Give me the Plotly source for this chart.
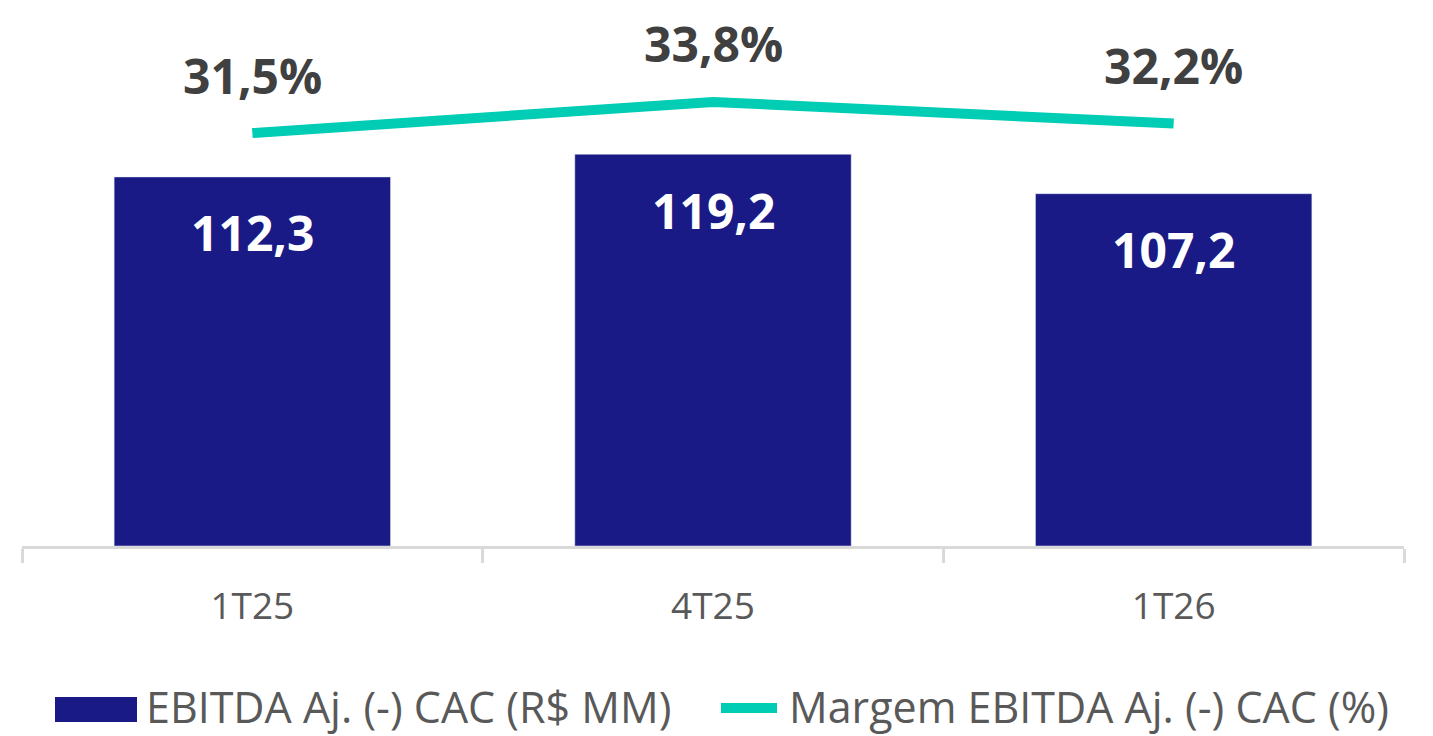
import plotly.graph_objects as go

categories = ["1T25", "4T25", "1T26"]
ebitda = [112.3, 119.2, 107.2]
margem = [31.5, 33.8, 32.2]
ebitda_labels = ["112,3", "119,2", "107,2"]
margem_labels = ["31,5%", "33,8%", "32,2%"]
legend_names = ["EBITDA Aj. (-) CAC (R$ MM)", "Margem EBITDA Aj. (-) CAC (%)"]

BAR = "#1a1a87"
TEAL = "#00cdb4"
FONT = "Open Sans"

W, H = 1425, 728
L, R, T, B = 14, 29, 0, 190
PW = W - L - R
PH = H - T - B


def px(xfig):
    return (xfig - L) / PW


def py(yfig):
    return (H - B - yfig) / PH


fig = go.Figure()
fig.add_trace(go.Bar(x=categories, y=ebitda, marker_color=BAR, width=0.6,
                     name=legend_names[0], showlegend=False, hoverinfo="skip"))
fig.add_trace(go.Scatter(x=categories, y=margem, yaxis="y2", mode="lines",
                         line=dict(color=TEAL, width=10), name=legend_names[1],
                         showlegend=False, hoverinfo="skip"))

annotations = []
for c, v, t in zip(categories, ebitda, ebitda_labels):
    annotations.append(dict(x=c, y=v, xref="x", yref="y", text=f"<b>{t}</b>",
                            showarrow=False, yshift=-56, yanchor="middle",
                            font=dict(family=FONT, size=48, color="white")))
for c, v, t in zip(categories, margem, margem_labels):
    annotations.append(dict(x=c, y=v, xref="x", yref="y2", text=f"<b>{t}</b>",
                            showarrow=False, yshift=58, yanchor="middle",
                            font=dict(family=FONT, size=48, color="#404040")))

# manual legend
shapes = [
    dict(type="rect", xref="paper", yref="paper", x0=px(47), x1=px(129),
         y0=py(714), y1=py(689), fillcolor=BAR, line=dict(width=0)),
    dict(type="line", xref="paper", yref="paper", x0=px(713), x1=px(769),
         y0=py(700), y1=py(700), line=dict(color=TEAL, width=10)),
]
annotations.append(dict(xref="paper", yref="paper", x=px(136), y=py(698),
                        xanchor="left", yanchor="middle", showarrow=False,
                        text=legend_names[0], font=dict(family=FONT, size=43, color="#595959")))
annotations.append(dict(xref="paper", yref="paper", x=px(779), y=py(698),
                        xanchor="left", yanchor="middle", showarrow=False,
                        text=legend_names[1], font=dict(family=FONT, size=43, color="#595959")))

fig.update_layout(
    width=W, height=H,
    margin=dict(l=L, r=R, t=T, b=B),
    plot_bgcolor="white", paper_bgcolor="white",
    xaxis=dict(showline=True, linecolor="#d9d9d9", linewidth=3,
               ticks="outside", tickson="boundaries", ticklen=14, tickwidth=3,
               tickcolor="#d9d9d9", showgrid=False, ticklabelstandoff=26,
               tickfont=dict(family=FONT, size=37, color="#595959"),
               range=[-0.5, 2.5]),
    yaxis=dict(range=[0, 163.7], visible=False, showgrid=False),
    yaxis2=dict(range=[0.907, 40.76], overlaying="y", visible=False, showgrid=False),
    annotations=annotations,
    shapes=shapes,
    showlegend=False,
)
fig.write_html("out.html")
